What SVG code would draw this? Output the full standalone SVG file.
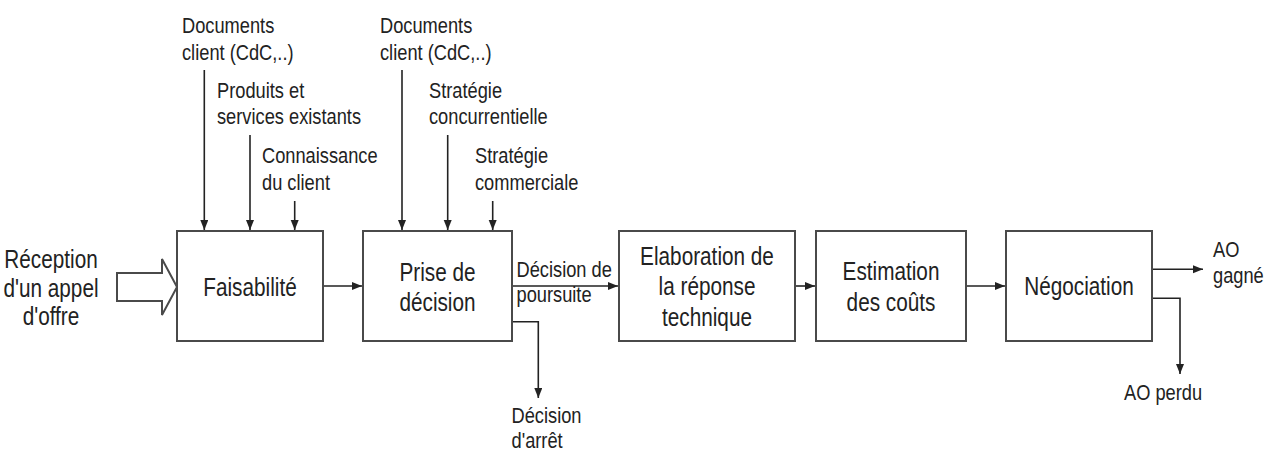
<svg xmlns="http://www.w3.org/2000/svg" width="1271" height="455" viewBox="0 0 1271 455">
<style>
.box{fill:#fff;stroke:#4a4a4a;stroke-width:2}
.big{font-family:"Liberation Sans",Arial,sans-serif;font-size:25px;fill:#222;text-anchor:middle}
.sm{font-family:"Liberation Sans",Arial,sans-serif;font-size:22px;fill:#222}
.ln{fill:none;stroke:#222;stroke-width:1.6}
</style>
<defs>
<marker id="ah" markerUnits="userSpaceOnUse" markerWidth="11" markerHeight="9" refX="10" refY="4" orient="auto">
<path d="M0,0 L10,4 L0,8 z" fill="#222"/>
</marker>
</defs>
<rect width="1271" height="455" fill="#fff"/>
<g id="connectors">
<path class="ln" marker-end="url(#ah)" d="M204.3,70 V230"/>
<path class="ln" marker-end="url(#ah)" d="M250,135 V230"/>
<path class="ln" marker-end="url(#ah)" d="M294.7,201 V230"/>
<path class="ln" marker-end="url(#ah)" d="M402,70 V230"/>
<path class="ln" marker-end="url(#ah)" d="M447.7,135 V230"/>
<path class="ln" marker-end="url(#ah)" d="M492.7,201 V230"/>
<path class="ln" marker-end="url(#ah)" d="M323,286 H362"/>
<path class="ln" marker-end="url(#ah)" d="M512,286 H618"/>
<path class="ln" marker-end="url(#ah)" d="M512,321.7 H538.3 V398"/>
<path class="ln" marker-end="url(#ah)" d="M795,286 H815"/>
<path class="ln" marker-end="url(#ah)" d="M966,286 H1005"/>
<path class="ln" marker-end="url(#ah)" d="M1152,269.3 H1203"/>
<path class="ln" marker-end="url(#ah)" d="M1152,298.3 H1180 V374"/>
<polygon points="117,273 162,273 162,259 177,287 162,315 162,301 117,301" fill="#fff" stroke="#4a4a4a" stroke-width="2"/>
</g>
<g id="reception">
<text class="big" transform="translate(51,268) scale(.83,1)">Réception</text>
<text class="big" transform="translate(51,297) scale(.83,1)">d'un appel</text>
<text class="big" transform="translate(51,325) scale(.83,1)">d'offre</text>
</g>
<g id="in-docs1">
<text class="sm" transform="translate(182,33) scale(.83,1)">Documents</text>
<text class="sm" transform="translate(182,60) scale(.83,1)">client (CdC,..)</text>
</g>
<g id="in-produits">
<text class="sm" transform="translate(217,98) scale(.83,1)">Produits et</text>
<text class="sm" transform="translate(217,124) scale(.83,1)">services existants</text>
</g>
<g id="in-connaissance">
<text class="sm" transform="translate(262,163) scale(.83,1)">Connaissance</text>
<text class="sm" transform="translate(262,190) scale(.83,1)">du client</text>
</g>
<g id="in-docs2">
<text class="sm" transform="translate(380,33) scale(.83,1)">Documents</text>
<text class="sm" transform="translate(380,60) scale(.83,1)">client (CdC,..)</text>
</g>
<g id="in-concurrentielle">
<text class="sm" transform="translate(429,98) scale(.83,1)">Stratégie</text>
<text class="sm" transform="translate(429,124) scale(.83,1)">concurrentielle</text>
</g>
<g id="in-commerciale">
<text class="sm" transform="translate(475,163) scale(.83,1)">Stratégie</text>
<text class="sm" transform="translate(475,190) scale(.83,1)">commerciale</text>
</g>
<g id="faisabilite">
<rect class="box" x="177" y="231" width="146" height="110"/>
<text class="big" transform="translate(250,296) scale(.83,1)">Faisabilité</text>
</g>
<g id="prise-decision">
<rect class="box" x="363" y="231" width="149" height="110"/>
<text class="big" transform="translate(437.5,281) scale(.83,1)">Prise de</text>
<text class="big" transform="translate(437.5,311) scale(.83,1)">décision</text>
</g>
<g id="lbl-poursuite">
<text class="sm" transform="translate(516.5,277) scale(.83,1)">Décision de</text>
<text class="sm" transform="translate(516.5,302) scale(.83,1)">poursuite</text>
</g>
<g id="lbl-arret">
<text class="sm" transform="translate(511.5,423) scale(.83,1)">Décision</text>
<text class="sm" transform="translate(511.5,448) scale(.83,1)">d'arrêt</text>
</g>
<g id="elaboration">
<rect class="box" x="619" y="231" width="176" height="110"/>
<text class="big" transform="translate(707,265) scale(.83,1)">Elaboration de</text>
<text class="big" transform="translate(707,295) scale(.83,1)">la réponse</text>
<text class="big" transform="translate(707,326) scale(.83,1)">technique</text>
</g>
<g id="estimation">
<rect class="box" x="816" y="231" width="150" height="110"/>
<text class="big" transform="translate(891,280) scale(.83,1)">Estimation</text>
<text class="big" transform="translate(891,311) scale(.83,1)">des coûts</text>
</g>
<g id="negociation">
<rect class="box" x="1006" y="231" width="146" height="110"/>
<text class="big" transform="translate(1079,295) scale(.83,1)">Négociation</text>
</g>
<g id="lbl-gagne">
<text class="sm" transform="translate(1213,257) scale(.83,1)">AO</text>
<text class="sm" transform="translate(1213,283) scale(.83,1)">gagné</text>
</g>
<g id="lbl-perdu">
<text class="sm" transform="translate(1124,400) scale(.83,1)">AO perdu</text>
</g>
</svg>
